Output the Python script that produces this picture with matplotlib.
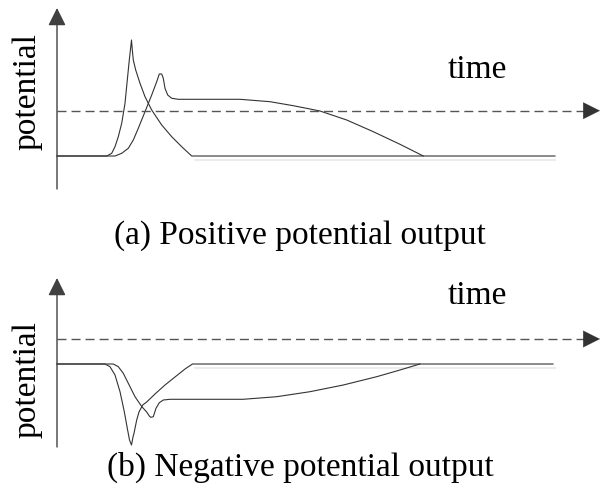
import matplotlib.pyplot as plt

# schematic curves
# t = time (px from the vertical axis), v = potential (px above the rest level)

# (a) positive output
a_fast_t = [0, 49.7, 54.7, 58, 61.3, 64.7, 68, 70.3, 72.3, 74.5, 75.3, 76.3, 78.7, 83, 88,
            94.7, 104.7, 114.7, 124.7, 134.7, 498]
a_fast_v = [0, 0, 2.7, 9.3, 19.3, 32.7, 52.7, 76, 96, 116, 106, 96, 86, 72.7, 59.3,
            46, 31, 19.3, 9.3, 0, 0]
a_slow_t = [0, 58, 64.7, 71.3, 76.3, 81.3, 88, 94.7, 99.7, 102.3, 104.7, 106.3, 108, 110.7,
            114.7, 121.3, 183, 213, 236.3, 263, 289.7, 316.3, 343, 366.3]
a_slow_v = [0, 0, 2.7, 7.7, 16, 27.7, 44.3, 61, 74.3, 82, 82, 77.7, 67.7, 61,
            57.7, 56.7, 56.7, 54.3, 50.3, 45, 36, 24.3, 11.7, 0]
a_rest = 156
a_thr = 45.3

# (b) negative output
b_fast_t = [0, 48, 53, 58, 63, 67.3, 70.3, 72.5, 74.5, 76, 77, 79.7, 82, 85.7, 89.7,
            98, 108, 118, 128, 135.5, 496]
b_fast_v = [0, 0, -2.7, -11, -27.7, -47.7, -64.3, -76, -81, -73, -69.3, -56, -48, -41, -38,
            -30, -21, -13, -5, 0, 0]
b_slow_t = [0, 56.3, 61.3, 66.3, 71.3, 78, 84.7, 89.7, 92.3, 93.7, 96.3, 99, 102.3, 106.3,
            113, 186, 219.7, 253, 286.3, 319.7, 343, 363]
b_slow_v = [0, 0, -2.7, -9.3, -19.3, -32.7, -42.5, -48, -52, -53.3, -52.7, -44.3, -38.7, -36,
            -35.3, -35.3, -32.7, -27.7, -21, -12.7, -6, 0]
b_rest = 364
b_thr = 25

line_c = '#333333'
axis_c = '#404040'
dash_c = '#555555'

plt.rcParams['font.family'] = ['Liberation Serif', 'DejaVu Serif']
fig = plt.figure(figsize=(6.01, 5.01), dpi=100)


def panel(top, bottom, rest, fast, slow, thr, axis_top, axis_bottom, time_y, label_y, caption, caption_y):
    h = bottom - top
    ax = fig.add_axes([0, 1 - bottom / 501, 1, h / 501])
    ax.set_xlim(-57, 544)
    ax.set_ylim(rest - bottom, rest - top)
    ax.axis('off')

    # faint echo under the rest level
    ax.plot([138, 498], [-3.5, -3.5], color='#ececec', lw=1.5)

    ax.plot(fast[0], fast[1], color=line_c, lw=0.8, solid_joinstyle='round')
    ax.plot(slow[0], slow[1], color=line_c, lw=0.8, solid_joinstyle='round')

    # threshold, dashed time axis with arrow
    ax.plot([0, 532], [thr, thr], color=dash_c, lw=1.0, dashes=(6.5, 3.6))
    ax.annotate('', xy=(543, thr), xytext=(528, thr),
                arrowprops=dict(arrowstyle='-|>', color='#333333', lw=0.1,
                                mutation_scale=30, shrinkA=0, shrinkB=0))
    # potential axis
    ax.annotate('', xy=(0, rest - axis_top), xytext=(0, rest - axis_bottom),
                arrowprops=dict(arrowstyle='-|>', color=axis_c, lw=1.0,
                                mutation_scale=27, shrinkA=0, shrinkB=0))

    ax.text(420, rest - time_y, 'time', fontsize=24, ha='center', va='center')
    ax.text(-30, rest - label_y, 'potential', fontsize=24, rotation=90,
            ha='center', va='center')
    ax.text(243, rest - caption_y, caption, fontsize=24, ha='center', va='center')


panel(0, 250, a_rest, (a_fast_t, a_fast_v), (a_slow_t, a_slow_v), a_thr,
      8, 189, 70, 92, '(a) Positive potential output', 236)
panel(250, 501, b_rest, (b_fast_t, b_fast_v), (b_slow_t, b_slow_v), b_thr,
      278, 447, 296, 380, '(b) Negative potential output', 467)

fig.savefig('out.png', dpi=100)
